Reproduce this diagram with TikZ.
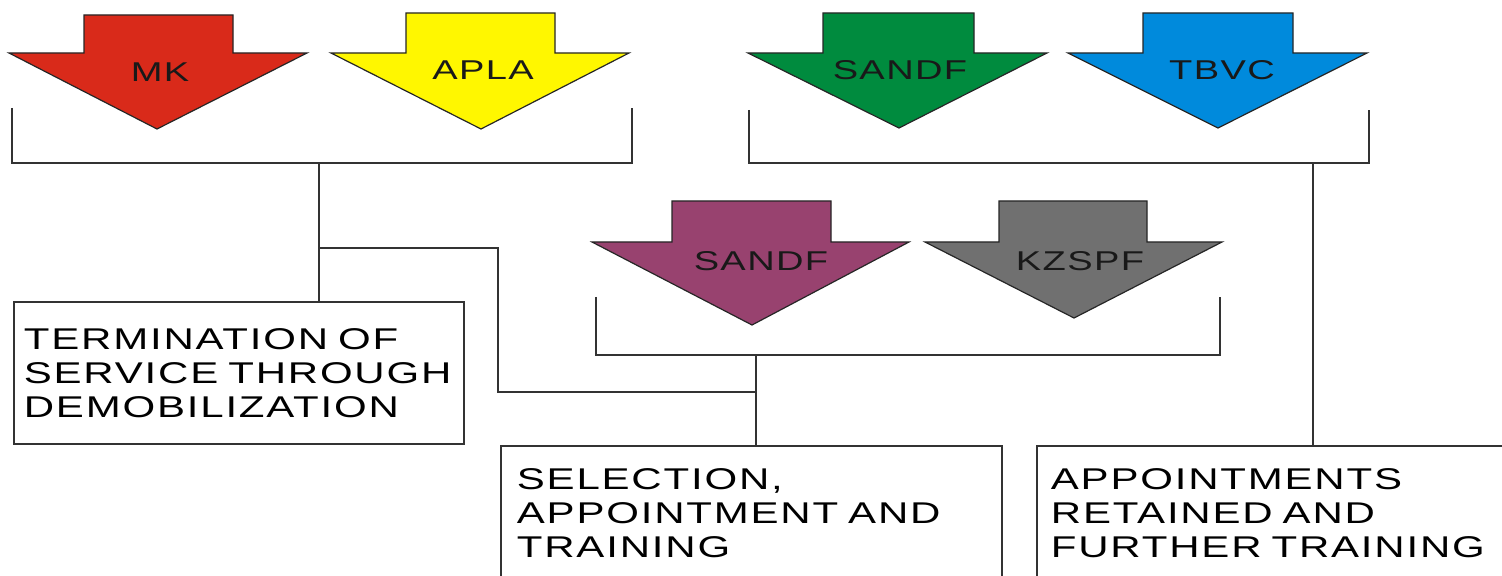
\documentclass[tikz,border=0pt]{standalone}
\usepackage{fontspec}
% wide geometric-looking sans for all labels
\newfontfamily\labelfont[FakeStretch=1.4,LetterSpace=5,WordSpace=1.7]{Liberation Sans}
\newfontfamily\boxfont[FakeStretch=1.4,LetterSpace=6,WordSpace=2.2]{Liberation Sans}
\definecolor{mkred}{HTML}{D92A1A}
\definecolor{aplayellow}{HTML}{FFF700}
\definecolor{sandfgreen}{HTML}{008B3E}
\definecolor{tbvcblue}{HTML}{008ADC}
\definecolor{sandfpurple}{HTML}{98426F}
\definecolor{kzgray}{HTML}{707070}
\begin{document}
\begin{tikzpicture}[x=0.5pt,y=-0.5pt,
  body/.style={draw=black!85,line width=0.6pt,line join=miter},
  tag/.style={font=\labelfont\fontsize{13.6}{16}\selectfont,text=black!90,inner sep=0pt},
  bracket/.style={draw=black!80,line width=0.9pt},
  link/.style={draw=black!80,line width=0.7pt},
  box/.style={draw=black!80,line width=0.9pt,anchor=north west,align=left,
    inner ysep=0pt,font=\boxfont\fontsize{15}{17}\selectfont}]
\useasboundingbox (0,0) rectangle (1502,576);
\clip (0,0) rectangle (1502,576);

% ---- top-left group: MK and APLA
\filldraw[body,fill=mkred] (84,15) -- (233,15) -- (233,53) -- (307,53) -- (157,129) -- (9,53) -- (84,53) -- cycle;
\node[tag] (mk) at (160,72) {MK};
\filldraw[body,fill=aplayellow] (406,13) -- (555,13) -- (555,53) -- (629,53) -- (481,129) -- (331,53) -- (406,53) -- cycle;
\node[tag] (apla) at (483,70) {APLA};

% ---- top-right group: SANDF and TBVC
\filldraw[body,fill=sandfgreen] (823,13) -- (974,13) -- (974,53) -- (1047,53) -- (899,128) -- (748,53) -- (823,53) -- cycle;
\node[tag] (sandfA) at (900,70) {SANDF};
\filldraw[body,fill=tbvcblue] (1143,13) -- (1293,13) -- (1293,53) -- (1367,53) -- (1218,128) -- (1068,53) -- (1143,53) -- cycle;
\node[tag] (tbvc) at (1222,70) {TBVC};

% ---- middle group: SANDF and KZSPF
\filldraw[body,fill=sandfpurple] (672,201) -- (831,201) -- (831,242) -- (909,242) -- (752,325) -- (592,242) -- (672,242) -- cycle;
\node[tag] (sandfB) at (761,261) {SANDF};
\filldraw[body,fill=kzgray] (999,201) -- (1147,201) -- (1147,242) -- (1222,242) -- (1074,318) -- (925,242) -- (999,242) -- cycle;
\node[tag] (kzspf) at (1080,261) {KZSPF};

% ---- outcome boxes
\node[box,inner xsep=5pt,text width=215pt,minimum width=225pt,minimum height=71pt] (term) at (13,301)
  {TERMINATION OF\\SERVICE THROUGH\\DEMOBILIZATION};
\node[box,inner xsep=8pt,text width=234.5pt,minimum width=250.5pt,minimum height=67pt] (select) at (500,445)
  {SELECTION,\\APPOINTMENT AND\\TRAINING};
\node[box,inner xsep=7pt,text width=228pt,minimum width=242pt,minimum height=67pt] (retain) at (1036,445)
  {APPOINTMENTS\\RETAINED AND\\FURTHER TRAINING};

% ---- brackets under each group, with their stems
\coordinate (s1) at (319,163);
\coordinate (s2) at (1313,163);
\coordinate (s3) at (756,355);
\draw[bracket] (12,108) -- (12,163) -- (632,163) -- (632,108);
\draw[bracket] (749,110) -- (749,163) -- (1369,163) -- (1369,110);
\draw[bracket] (596,297) -- (596,355) -- (1220,355) -- (1220,297);
\draw[link] (s1) -- (s1 |- term.north);
\draw[link] (s2) -- (s2 |- retain.north);
\draw[link] (s3) -- (s3 |- select.north);

% ---- cross link from the MK/APLA stem to the selection stem
\coordinate (k1) at (319,248);
\coordinate (k2) at (756,392);
\coordinate (c1) at (498,248);
\coordinate (c2) at (498,392);
\draw[link] (k1) -- (c1) -- (c2) -- (k2);
\end{tikzpicture}
\end{document}
